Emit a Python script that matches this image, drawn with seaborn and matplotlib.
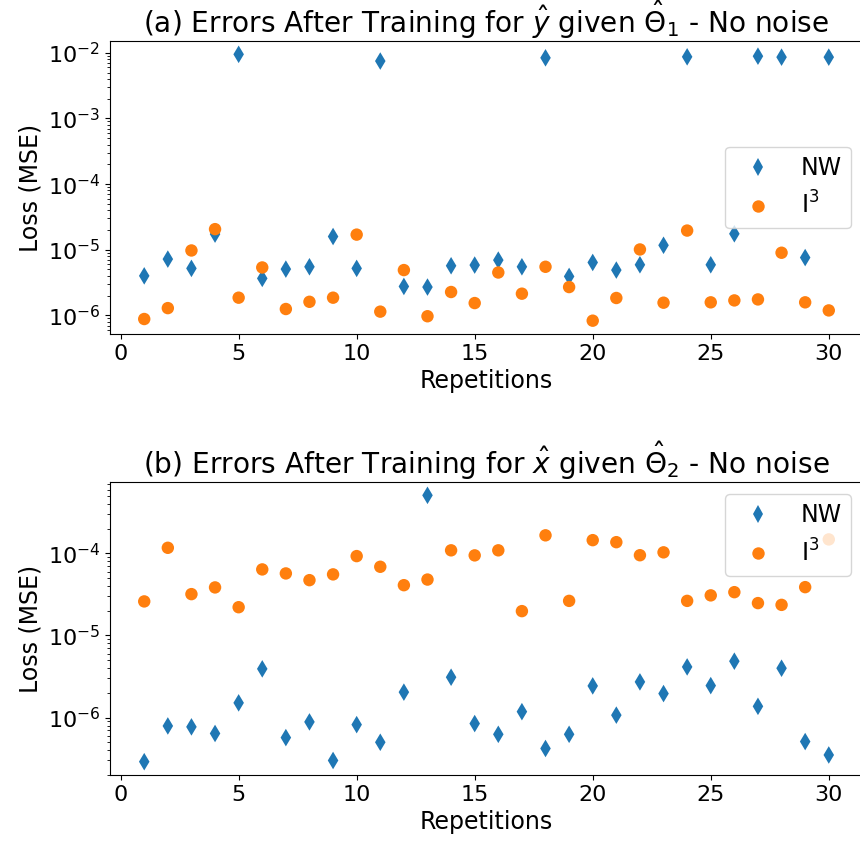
import numpy as np
import pandas as pd
import matplotlib
matplotlib.use("Agg")
import matplotlib.pyplot as plt
import seaborn as sns

reps = list(range(1, 31))

# Panel (a): errors for y-hat given Theta_1
nw_a = [4.0e-6, 7.2e-6, 5.2e-6, 1.73e-5, 9.5e-3, 3.66e-6, 5.07e-6, 5.5e-6, 1.59e-5, 5.2e-6,
        7.5e-3, 2.76e-6, 2.7e-6, 5.7e-6, 5.84e-6, 6.95e-6, 5.5e-6, 8.4e-3, 3.92e-6, 6.4e-6,
        4.9e-6, 5.9e-6, 1.17e-5, 8.7e-3, 5.9e-6, 1.75e-5, 8.9e-3, 8.6e-3, 7.6e-6, 8.6e-3]
i3_a = [8.8e-7, 1.29e-6, 9.75e-6, 2.06e-5, 1.86e-6, 5.37e-6, 1.25e-6, 1.61e-6, 1.86e-6, 1.7e-5,
        1.14e-6, 4.9e-6, 9.7e-7, 2.27e-6, 1.54e-6, 4.5e-6, 2.14e-6, 5.5e-6, 2.7e-6, 8.3e-7,
        1.84e-6, 1.01e-5, 1.56e-6, 1.96e-5, 1.58e-6, 1.69e-6, 1.75e-6, 9.0e-6, 1.58e-6, 1.19e-6]

# Panel (b): errors for x-hat given Theta_2
nw_b = [2.9e-7, 7.9e-7, 7.7e-7, 6.4e-7, 1.51e-6, 3.92e-6, 5.7e-7, 8.85e-7, 3.0e-7, 8.2e-7,
        5.0e-7, 2.04e-6, 5.1e-4, 3.1e-6, 8.45e-7, 6.25e-7, 1.18e-6, 4.2e-7, 6.25e-7, 2.43e-6,
        1.07e-6, 2.72e-6, 1.96e-6, 4.14e-6, 2.45e-6, 4.86e-6, 1.37e-6, 3.99e-6, 5.1e-7, 3.5e-7]
i3_b = [2.6e-5, 1.17e-4, 3.19e-5, 3.85e-5, 2.21e-5, 6.38e-5, 5.7e-5, 4.72e-5, 5.55e-5, 9.27e-5,
        6.87e-5, 4.1e-5, 4.8e-5, 1.09e-4, 9.46e-5, 1.09e-4, 1.98e-5, 1.66e-4, 2.64e-5, 1.45e-4,
        1.37e-4, 9.5e-5, 1.03e-4, 2.64e-5, 3.08e-5, 3.37e-5, 2.48e-5, 2.36e-5, 3.88e-5, 1.48e-4]

methods = ["NW", "I$^3$"]
titles = [r"(a) Errors After Training for $\hat{y}$ given $\hat{\Theta}_1$ - No noise",
          r"(b) Errors After Training for $\hat{x}$ given $\hat{\Theta}_2$ - No noise"]
legend_locs = ["center right", "upper right"]


def make_df(nw, i3):
    return pd.DataFrame({
        "Repetitions": reps + reps,
        "Loss (MSE)": nw + i3,
        "method": [methods[0]] * len(nw) + [methods[1]] * len(i3),
    })


W, H = 860, 846
fig = plt.figure(figsize=(W / 100, H / 100), dpi=100)
ax_top = fig.add_axes([110 / W, 1 - 334 / H, 753 / W, 293 / H])
ax_bot = fig.add_axes([110 / W, 1 - 775 / H, 753 / W, 293 / H])

for ax, (nw, i3), title, loc in zip([ax_top, ax_bot], [(nw_a, i3_a), (nw_b, i3_b)], titles, legend_locs):
    df = make_df(nw, i3)
    ax.set_yscale("log")
    sns.scatterplot(data=df, x="Repetitions", y="Loss (MSE)", hue="method", style="method",
                    markers={methods[0]: "d", methods[1]: "o"},
                    palette={methods[0]: "#1f77b4", methods[1]: "#ff7f0e"},
                    s=80, linewidth=0, ax=ax)
    ax.set_yscale("log")
    ax.autoscale_view()
    ax.set_title(title, fontsize=20.2)
    ax.set_xlabel("Repetitions", fontsize=17)
    ax.set_ylabel("Loss (MSE)", fontsize=17)
    ax.tick_params(axis="both", which="major", labelsize=16)
    ax.set_xticks([0, 5, 10, 15, 20, 25, 30])
    handles, labels = ax.get_legend_handles_labels()
    ax.legend(handles=handles, labels=labels, loc=loc, fontsize=17)

fig.savefig("out.png", dpi=100)
